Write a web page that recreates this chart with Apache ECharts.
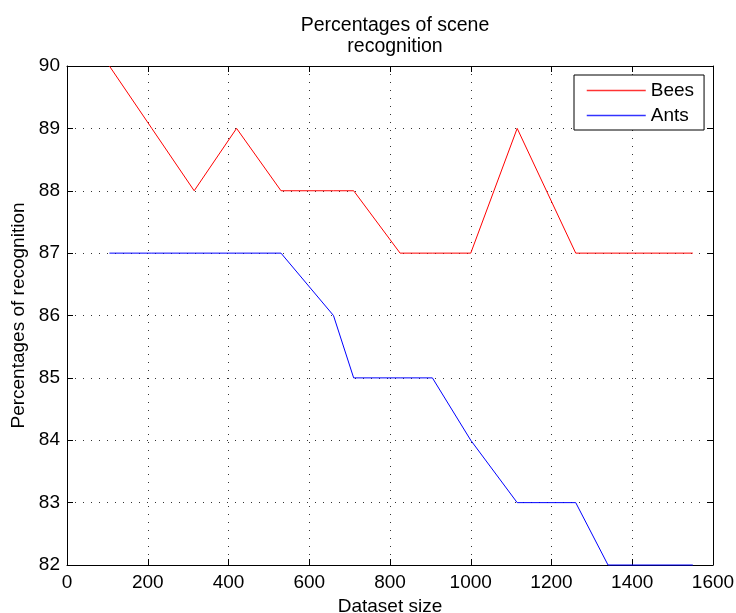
<!DOCTYPE html>
<html>
<head>
<meta charset="utf-8">
<script src="https://cdn.jsdelivr.net/npm/echarts@6/dist/echarts.min.js"></script>
<style>
html,body{margin:0;padding:0;background:#fff;}
#chart{width:736px;height:613px;}
</style>
</head>
<body>
<div id="chart"></div>
<script>
// Data
var datasetSizes = [105, 210, 315, 420, 530, 660, 710, 825, 905, 1000, 1115, 1260, 1340, 1550];
var beesValues   = [90, 89, 88, 89, 88, 88, 88, 87, 87, 87, 89, 87, 87, 87];
var antsValues   = [87, 87, 87, 87, 87, 86, 85, 85, 85, 84, 83, 83, 82, 82];
var seriesNames  = ['Bees', 'Ants'];
var titleText    = 'Percentages of scene\nrecognition';
var xAxisName    = 'Dataset size';
var yAxisName    = 'Percentages of recognition';

function pairs(xs, ys) {
  return xs.map(function (x, i) { return [x, ys[i]]; });
}
function plain(v) { return String(v); }

var FONT = '"Liberation Sans", Arial, Helvetica, sans-serif';
var chart = echarts.init(document.getElementById('chart'), null, {renderer: 'canvas'});

var gridDots = {show: true, lineStyle: {color: '#333', width: 1, type: [1, 7]}};

chart.setOption({
  animation: false,
  backgroundColor: '#fff',
  title: {
    text: titleText,
    left: 390,
    top: 10,
    textAlign: 'center',
    textStyle: {fontFamily: FONT, fontSize: 19.5, fontWeight: 'normal', color: '#000', lineHeight: 21}
  },
  legend: {
    data: seriesNames,
    orient: 'vertical',
    left: 574,
    top: 75,
    itemWidth: 59,
    itemHeight: 19,
    itemGap: 6,
    padding: [6, 10, 5, 12],
    borderColor: '#000',
    borderWidth: 1,
    backgroundColor: '#fff',
    itemStyle: {opacity: 0},
    lineStyle: {width: 1.5, opacity: 0.8},
    textStyle: {fontFamily: FONT, fontSize: 19, color: '#000'}
  },
  grid: {left: 67, right: 23, top: 66, bottom: 48, containLabel: false, outerBoundsMode: 'none'},
  xAxis: [{
    type: 'value',
    min: 0, max: 1600, interval: 200,
    name: xAxisName,
    nameLocation: 'middle',
    nameGap: 31,
    nameTextStyle: {fontFamily: FONT, fontSize: 19, color: '#000'},
    axisLine: {show: true, onZero: false, lineStyle: {color: '#000', width: 1}},
    axisTick: {show: true, inside: true, length: 6, lineStyle: {color: '#000'}},
    axisLabel: {fontFamily: FONT, fontSize: 19, color: '#000', margin: 8, formatter: plain},
    splitLine: gridDots
  }, {
    type: 'value',
    position: 'top',
    min: 0, max: 1600, interval: 200,
    axisLine: {show: true, onZero: false, lineStyle: {color: '#000', width: 1}},
    axisTick: {show: true, inside: true, length: 6, lineStyle: {color: '#000'}},
    axisLabel: {show: false},
    splitLine: {show: false}
  }],
  yAxis: [{
    type: 'value',
    min: 82, max: 90, interval: 1,
    name: yAxisName,
    nameLocation: 'middle',
    nameGap: 37,
    nameTextStyle: {fontFamily: FONT, fontSize: 19, color: '#000'},
    axisLine: {show: true, onZero: false, lineStyle: {color: '#000', width: 1}},
    axisTick: {show: true, inside: true, length: 6, lineStyle: {color: '#000'}},
    axisLabel: {fontFamily: FONT, fontSize: 19, color: '#000', margin: 7, formatter: plain},
    splitLine: gridDots
  }, {
    type: 'value',
    position: 'right',
    min: 82, max: 90, interval: 1,
    axisLine: {show: true, onZero: false, lineStyle: {color: '#000', width: 1}},
    axisTick: {show: true, inside: true, length: 6, lineStyle: {color: '#000'}},
    axisLabel: {show: false},
    splitLine: {show: false}
  }],
  series: [{
    name: seriesNames[0],
    type: 'line',
    symbol: 'none',
    data: pairs(datasetSizes, beesValues),
    lineStyle: {color: '#ff0000', width: 1},
    itemStyle: {color: '#ff0000'},
    clip: false,
    z: 5
  }, {
    name: seriesNames[1],
    type: 'line',
    symbol: 'none',
    data: pairs(datasetSizes, antsValues),
    lineStyle: {color: '#0000ff', width: 1},
    itemStyle: {color: '#0000ff'},
    clip: false,
    z: 5
  }]
});
</script>
</body>
</html>
